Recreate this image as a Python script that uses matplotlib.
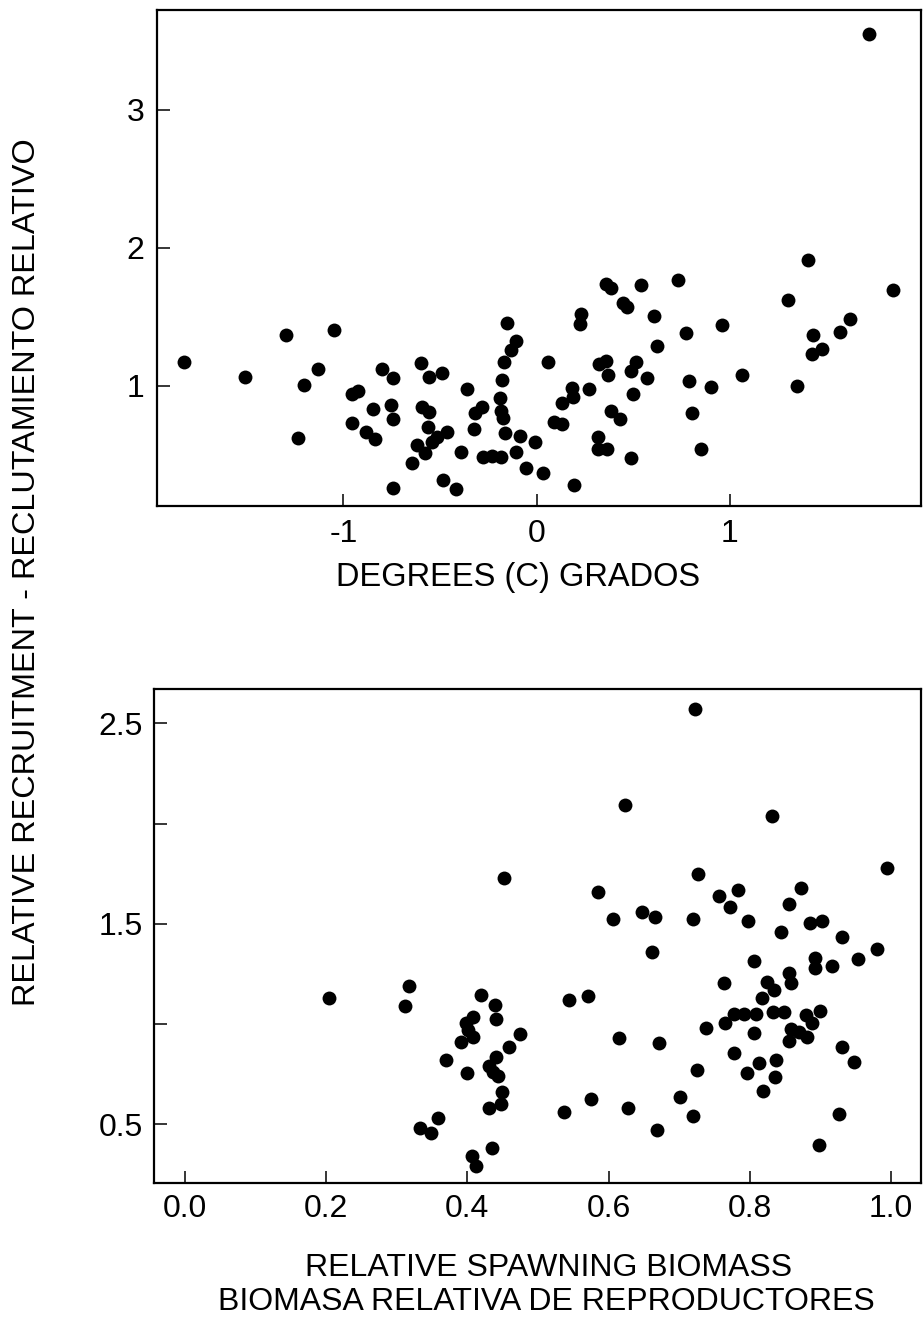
import numpy as np
import matplotlib
matplotlib.use("Agg")
import matplotlib.pyplot as plt

# top panel: temperature anomaly vs relative recruitment
temp_x = [-1.823, -1.509, -1.295, -1.047, -1.130, -1.202, -1.236, -0.957, -0.923, -0.954,
          -0.883, -0.838, -0.845, -0.802, -0.742, -0.754, -0.742, -0.742, -0.600, -0.557,
          -0.490, -0.595, -0.557, -0.561, -0.466, -0.517, -0.543, -0.621, -0.578, -0.643,
          -0.486, -0.419, -0.359, -0.392, -0.319, -0.281, -0.323, -0.276, -0.230, -0.186,
          -0.155, -0.109, -0.135, -0.168, -0.181, -0.190, -0.185, -0.173, -0.164, -0.086,
          -0.109, -0.055, -0.009, 0.031, 0.057,
          1.721, 1.402, 1.845, 1.302, 1.621, 1.569, 1.431, 1.478, 1.426, 1.345,
          0.359, 0.383, 0.540, 0.733, 0.448, 0.469, 0.229, 0.224, 0.608, 0.771,
          0.960, 0.621, 0.359, 0.324, 0.370, 0.514, 0.486, 0.569, 0.790, 0.902,
          1.064, 0.500, 0.805, 0.181, 0.190, 0.272, 0.129, 0.384, 0.431, 0.091,
          0.129, 0.319, 0.319, 0.365, 0.488, 0.850, 0.195]
temp_y = [1.169, 1.067, 1.365, 1.406, 1.121, 1.007, 0.621, 0.940, 0.964, 0.730,
          0.669, 0.616, 0.831, 1.121, 1.060, 0.862, 0.763, 0.259, 1.164, 1.067,
          1.092, 0.850, 0.814, 0.705, 0.669, 0.633, 0.596, 0.572, 0.512, 0.440,
          0.319, 0.254, 0.978, 0.520, 0.802, 0.850, 0.686, 0.483, 0.495, 0.488,
          1.454, 1.328, 1.261, 1.169, 1.043, 0.915, 0.819, 0.770, 0.662, 0.640,
          0.520, 0.408, 0.596, 0.372, 1.169,
          3.548, 1.908, 1.691, 1.623, 1.483, 1.393, 1.365, 1.268, 1.232, 1.000,
          1.739, 1.708, 1.732, 1.768, 1.599, 1.570, 1.519, 1.449, 1.502, 1.386,
          1.442, 1.285, 1.183, 1.157, 1.075, 1.169, 1.109, 1.060, 1.038, 0.995,
          1.075, 0.940, 0.802, 0.983, 0.922, 0.976, 0.875, 0.821, 0.761, 0.741,
          0.725, 0.633, 0.541, 0.543, 0.476, 0.543, 0.283]

# bottom panel: relative spawning biomass vs relative recruitment
bio_x = [0.204, 0.318, 0.312, 0.452, 0.419, 0.439, 0.441, 0.408, 0.398, 0.401,
         0.408, 0.391, 0.475, 0.459, 0.370, 0.441, 0.431, 0.437, 0.443, 0.399,
         0.449, 0.448, 0.431, 0.359, 0.333, 0.349, 0.435, 0.406, 0.412,
         0.723, 0.623, 0.831, 0.994, 0.727, 0.585, 0.757, 0.783, 0.772, 0.872,
         0.856, 0.606, 0.648, 0.666, 0.719, 0.798, 0.885, 0.902, 0.844, 0.930,
         0.980, 0.954, 0.662, 0.806, 0.892, 0.892, 0.916, 0.856, 0.858, 0.825,
         0.835, 0.764, 0.817, 0.544, 0.571, 0.778, 0.792, 0.809, 0.833, 0.848,
         0.899, 0.880, 0.765, 0.738, 0.888, 0.859, 0.870, 0.881, 0.856, 0.806,
         0.615, 0.672, 0.930, 0.947, 0.777, 0.837, 0.813, 0.796, 0.836, 0.819,
         0.725, 0.701, 0.575, 0.537, 0.627, 0.720, 0.668, 0.927, 0.898]
bio_y = [1.128, 1.190, 1.090, 1.730, 1.145, 1.095, 1.024, 1.034, 1.004, 0.970,
         0.934, 0.912, 0.949, 0.884, 0.821, 0.834, 0.791, 0.762, 0.741, 0.757,
         0.660, 0.601, 0.583, 0.533, 0.480, 0.458, 0.380, 0.342, 0.292,
         2.571, 2.093, 2.038, 1.777, 1.747, 1.659, 1.639, 1.669, 1.582, 1.680,
         1.597, 1.522, 1.557, 1.535, 1.522, 1.514, 1.503, 1.514, 1.461, 1.436,
         1.373, 1.324, 1.358, 1.314, 1.331, 1.278, 1.291, 1.253, 1.203, 1.208,
         1.170, 1.203, 1.128, 1.120, 1.140, 1.050, 1.050, 1.050, 1.059, 1.062,
         1.065, 1.045, 1.004, 0.982, 1.004, 0.974, 0.959, 0.934, 0.917, 0.954,
         0.929, 0.904, 0.887, 0.812, 0.857, 0.821, 0.804, 0.754, 0.734, 0.668,
         0.771, 0.638, 0.626, 0.560, 0.580, 0.543, 0.472, 0.551, 0.397]

plt.rcParams["axes.unicode_minus"] = False
plt.rcParams["font.family"] = ["Liberation Sans", "DejaVu Sans"]

fig = plt.figure(figsize=(9.23, 13.25), dpi=100)

ax1 = fig.add_axes([0.1701, 0.6181, 0.8277, 0.3743])
ax1.scatter(temp_x, temp_y, s=100, c="black", linewidths=0)
ax1.set_xlim(-1.964, 1.988)
ax1.set_ylim(0.13, 3.72)
ax1.set_xticks([-1, 0, 1])
ax1.set_xticklabels(["-1", "0", "1"])
ax1.set_yticks([1, 2, 3])
ax1.set_yticklabels(["1", "2", "3"])
ax1.tick_params(direction="in", length=9, width=1.1, labelsize=23)
ax1.tick_params(axis="x", pad=9)
ax1.tick_params(axis="y", pad=9)

ax2 = fig.add_axes([0.1668, 0.1072, 0.8310, 0.3728])
ax2.scatter(bio_x, bio_y, s=100, c="black", linewidths=0)
ax2.set_xlim(-0.0439, 1.0425)
ax2.set_ylim(0.207, 2.671)
ax2.set_xticks([0.0, 0.2, 0.4, 0.6, 0.8, 1.0])
ax2.set_xticklabels(["0.0", "0.2", "0.4", "0.6", "0.8", "1.0"])
ax2.set_yticks([0.5, 1.0, 1.5, 2.0, 2.5])
ax2.set_yticklabels(["0.5", "", "1.5", "", "2.5"])
ax2.tick_params(direction="in", length=9, width=1.1, labelsize=23)
ax2.tick_params(axis="x", pad=8)
ax2.tick_params(axis="y", pad=8)

for ax in (ax1, ax2):
    for sp in ax.spines.values():
        sp.set_linewidth(1.6)

fig.text(518 / 923, 1 - 578 / 1325, "DEGREES (C) GRADOS", ha="center", va="center", fontsize=23.5)
fig.text(549 / 923, 1 - 1268 / 1325, "RELATIVE SPAWNING BIOMASS", ha="center", va="center",
         fontsize=23)
fig.text(546 / 923, 1 - 1302 / 1325, "BIOMASA RELATIVA DE REPRODUCTORES", ha="center", va="center",
         fontsize=23)
fig.text(27 / 923, 1 - 572 / 1325, "RELATIVE RECRUITMENT - RECLUTAMIENTO RELATIVO",
         rotation=90, ha="center", va="center", fontsize=23.3)

fig.savefig("out.png", dpi=100)
